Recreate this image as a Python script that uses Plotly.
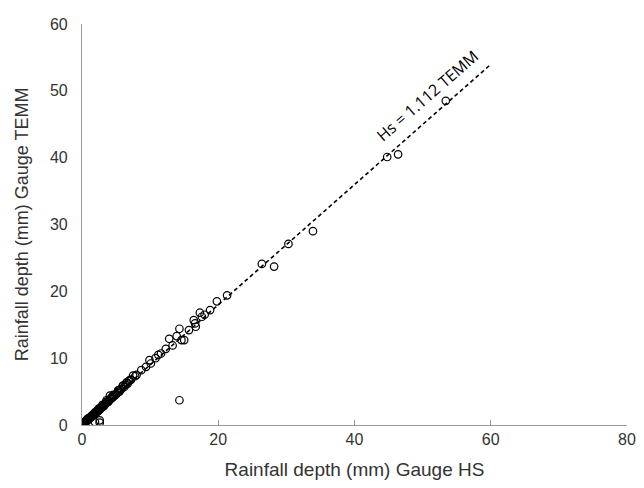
import plotly.graph_objects as go

# Observed pairs: rainfall depth (mm) at gauge HS vs gauge TEMM
hs_mm = [53.4, 46.4, 44.8, 33.9, 30.3, 28.2, 26.4, 21.3, 19.8, 18.8, 18.0, 17.3, 17.6,
         16.4, 16.6, 16.7, 15.7, 14.6, 14.3, 13.9, 12.8, 15.0, 13.3, 12.3, 11.6, 9.9,
         10.1, 9.4, 8.7, 7.5, 7.0, 6.0, 5.3, 4.1, 3.6, 14.3,
         0.0, 0.1, 0.2, 0.2, 0.3, 0.3, 0.4, 0.5, 0.5, 0.6, 0.7, 0.8, 0.9, 1.0, 1.0, 1.1,
         1.2, 1.3, 1.4, 1.5, 1.6, 1.7, 1.8, 1.9, 2.0, 2.1, 2.2, 2.3, 2.4, 2.5, 2.6, 2.7,
         2.8, 2.9, 3.0, 3.1, 3.2, 3.3, 3.4, 3.5, 3.7, 3.9, 4.0, 4.2, 4.4, 4.5, 4.7, 4.9,
         5.0, 5.2, 5.5, 5.6, 5.8, 6.2, 6.4, 6.5, 6.7, 6.9, 7.2, 7.8, 8.0, 10.8, 11.2,
         0.4, 0.7, 0.9, 1.2, 1.5, 1.8, 2.1, 2.4, 2.7, 3.0, 3.3, 3.6, 4.3, 4.6, 5.4, 6.0, 6.6,
         1.9, 2.6, 2.6]
temm_mm = [48.5, 40.5, 40.1, 29.0, 27.1, 23.7, 24.1, 19.4, 18.5, 17.2, 16.5, 16.8, 16.2,
           15.7, 15.2, 14.7, 14.2, 12.7, 14.4, 13.3, 12.9, 12.7, 11.9, 11.4, 10.7, 9.7,
           9.2, 8.7, 8.2, 7.4, 6.7, 5.9, 5.2, 4.4, 3.7, 3.7,
           0.1, 0.1, 0.2, 0.0, 0.2, 0.4, 0.3, 0.5, 0.4, 0.6, 0.6, 0.7, 0.8, 0.9, 1.0, 1.0,
           1.1, 1.2, 1.2, 1.4, 1.4, 1.6, 1.6, 1.7, 1.8, 1.9, 2.1, 2.0, 2.2, 2.3, 2.3, 2.5,
           2.5, 2.7, 2.7, 2.9, 2.8, 3.0, 3.1, 3.2, 3.4, 3.5, 3.7, 3.9, 4.0, 4.2, 4.3, 4.5,
           4.6, 4.8, 5.0, 5.3, 5.4, 5.7, 6.0, 6.3, 6.2, 6.6, 6.8, 7.3, 7.5, 10.0, 10.5,
           0.5, 0.8, 1.0, 1.2, 1.5, 1.8, 2.0, 2.4, 2.6, 3.0, 3.1, 3.5, 4.1, 4.5, 5.2, 5.8, 6.4,
           0.45, 0.7, 0.35]

# Regression line Hs = 1.112 TEMM
fit_hs = [0.0, 60.0]
fit_temm = [0.0, 60.0 / 1.112]

x_ticks = [0, 20, 40, 60, 80]
y_ticks = [0, 10, 20, 30, 40, 50, 60]

fig = go.Figure()
fig.add_trace(go.Scatter(x=fit_hs, y=fit_temm, mode="lines",
                         line=dict(color="black", width=1.6, dash="4px,3px"),
                         hoverinfo="skip", showlegend=False))
fig.add_trace(go.Scatter(x=hs_mm, y=temm_mm, mode="markers",
                         marker=dict(symbol="circle-open", size=7.5, color="black",
                                     line=dict(width=1.2, color="black")),
                         showlegend=False))

fig.add_annotation(x=50.6, y=49.3, text="Hs = 1.112 TEMM", showarrow=False,
                   textangle=-41, font=dict(family="Open Sans, Lato, sans-serif", size=16, color="black"))

tick_font = dict(family="Liberation Sans, Arial, sans-serif", size=16, color="#333333")
xtitle_font = dict(family="Liberation Sans, Arial, sans-serif", size=19, color="#333333")
ytitle_font = dict(family="Liberation Sans, Arial, sans-serif", size=18, color="#333333")
fig.update_layout(
    width=636, height=480,
    margin=dict(l=74, r=8, t=9, b=63),
    paper_bgcolor="white", plot_bgcolor="white",
    font=tick_font,
    xaxis=dict(range=[0, 80], tickvals=x_ticks, ticktext=[str(v) for v in x_ticks],
               showgrid=False, zeroline=False, showline=True, linecolor="#9a9a9a", linewidth=1.2,
               ticks="inside", ticklen=5, tickcolor="#9a9a9a", tickwidth=1,
               tickfont=tick_font, ticklabeloverflow="allow",
               title=dict(text="Rainfall depth (mm) Gauge HS", font=xtitle_font, standoff=15)),
    yaxis=dict(range=[0, 60], tickvals=y_ticks, ticktext=[str(v) for v in y_ticks],
               showgrid=False, zeroline=False, showline=True, linecolor="#9a9a9a", linewidth=1.2,
               ticks="", tickfont=tick_font, ticklabelstandoff=10,
               title=dict(text="Rainfall depth (mm) Gauge TEMM", font=ytitle_font, standoff=16)),
)

fig.write_html("out.html")
